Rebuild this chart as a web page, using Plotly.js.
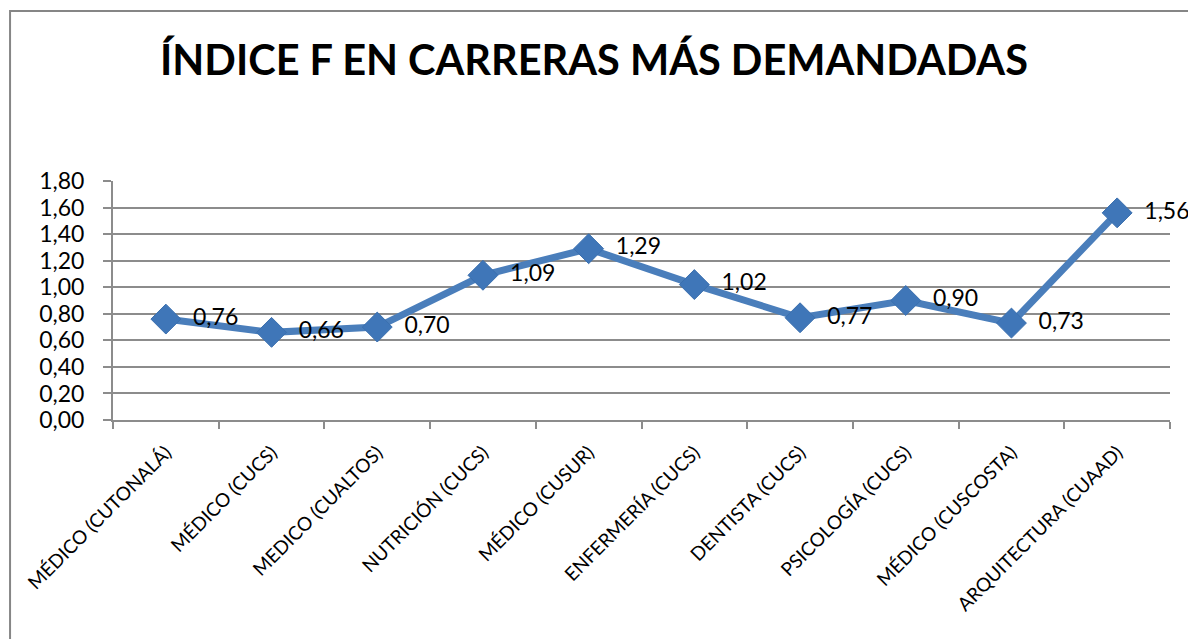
<!DOCTYPE html>
<html>
<head>
<meta charset="utf-8">
<script src="https://cdn.plot.ly/plotly-3.0.1.min.js"></script>
<style>
  html, body { margin: 0; padding: 0; background: #fff; }
  #grafico { width: 1188px; height: 639px; }
</style>
</head>
<body>
<div id="grafico"></div>
<script>
// Índice F por carrera
const carreras = [
  'MÉDICO (CUTONALÁ)', 'MÉDICO (CUCS)', 'MEDICO (CUALTOS)', 'NUTRICIÓN (CUCS)', 'MÉDICO (CUSUR)',
  'ENFERMERÍA (CUCS)', 'DENTISTA (CUCS)', 'PSICOLOGÍA (CUCS)', 'MÉDICO (CUSCOSTA)', 'ARQUITECTURA (CUAAD)'
];
const indiceF = [0.76, 0.66, 0.70, 1.09, 1.29, 1.02, 0.77, 0.90, 0.73, 1.56];
const marcasY = [0, 0.2, 0.4, 0.6, 0.8, 1.0, 1.2, 1.4, 1.6, 1.8];

const AZUL = '#4a7ebb';
const GRIS = '#8c8c8c';
const FUENTE = 'Lato, "Open Sans", sans-serif';

const traza = {
  x: carreras, y: indiceF,
  type: 'scatter', mode: 'lines+markers+text',
  line: { color: AZUL, width: 7 },
  marker: { symbol: 'diamond', size: 23, color: '#3f76b8', line: { color: '#3a6fae', width: 1 } },
  texttemplate: '\u00a0\u00a0%{y:.2f}',
  textposition: 'middle right',
  textfont: { family: FUENTE, size: 23, color: '#000' },
  cliponaxis: false,
  hoverinfo: 'x+y'
};

const layout = {
  width: 1188, height: 639,
  separators: ',.',
  title: {
    text: '<b>ÍNDICE F EN CARRERAS MÁS DEMANDADAS</b>',
    font: { family: FUENTE, size: 41.5, color: '#000' },
    x: 0.5, xanchor: 'center', y: 0.905, yanchor: 'middle'
  },
  margin: { l: 113, r: 18, t: 181, b: 219 },
  showlegend: false,
  xaxis: {
    type: 'category',
    range: [-0.5, 9.5],
    tickangle: -45,
    tickfont: { family: FUENTE, size: 19, color: '#000' },
    ticks: 'outside', ticklen: 7, tickcolor: GRIS, tickwidth: 2,
    tickson: 'boundaries',
    ticklabelstandoff: 12,
    showline: true, linecolor: GRIS, linewidth: 2,
    showgrid: false, zeroline: false
  },
  yaxis: {
    range: [0, 1.8],
    tickvals: marcasY,
    tickformat: '.2f',
    tickfont: { family: FUENTE, size: 23, color: '#000' },
    ticks: 'outside', ticklen: 8, tickcolor: GRIS, tickwidth: 2,
    ticklabelstandoff: 14,
    showline: true, linecolor: GRIS, linewidth: 2,
    showgrid: true, gridcolor: GRIS, gridwidth: 2,
    zeroline: false
  },
  shapes: [
    { type: 'rect', xref: 'paper', yref: 'paper', x0: -0.0974, x1: 1.2, y0: -1.0, y1: 1.711,
      line: { color: '#868686', width: 2 }, fillcolor: 'rgba(0,0,0,0)', layer: 'below' }
  ],
  plot_bgcolor: '#fff', paper_bgcolor: '#fff'
};

Plotly.newPlot('grafico', [traza], layout, { displayModeBar: false });
</script>
</body>
</html>
